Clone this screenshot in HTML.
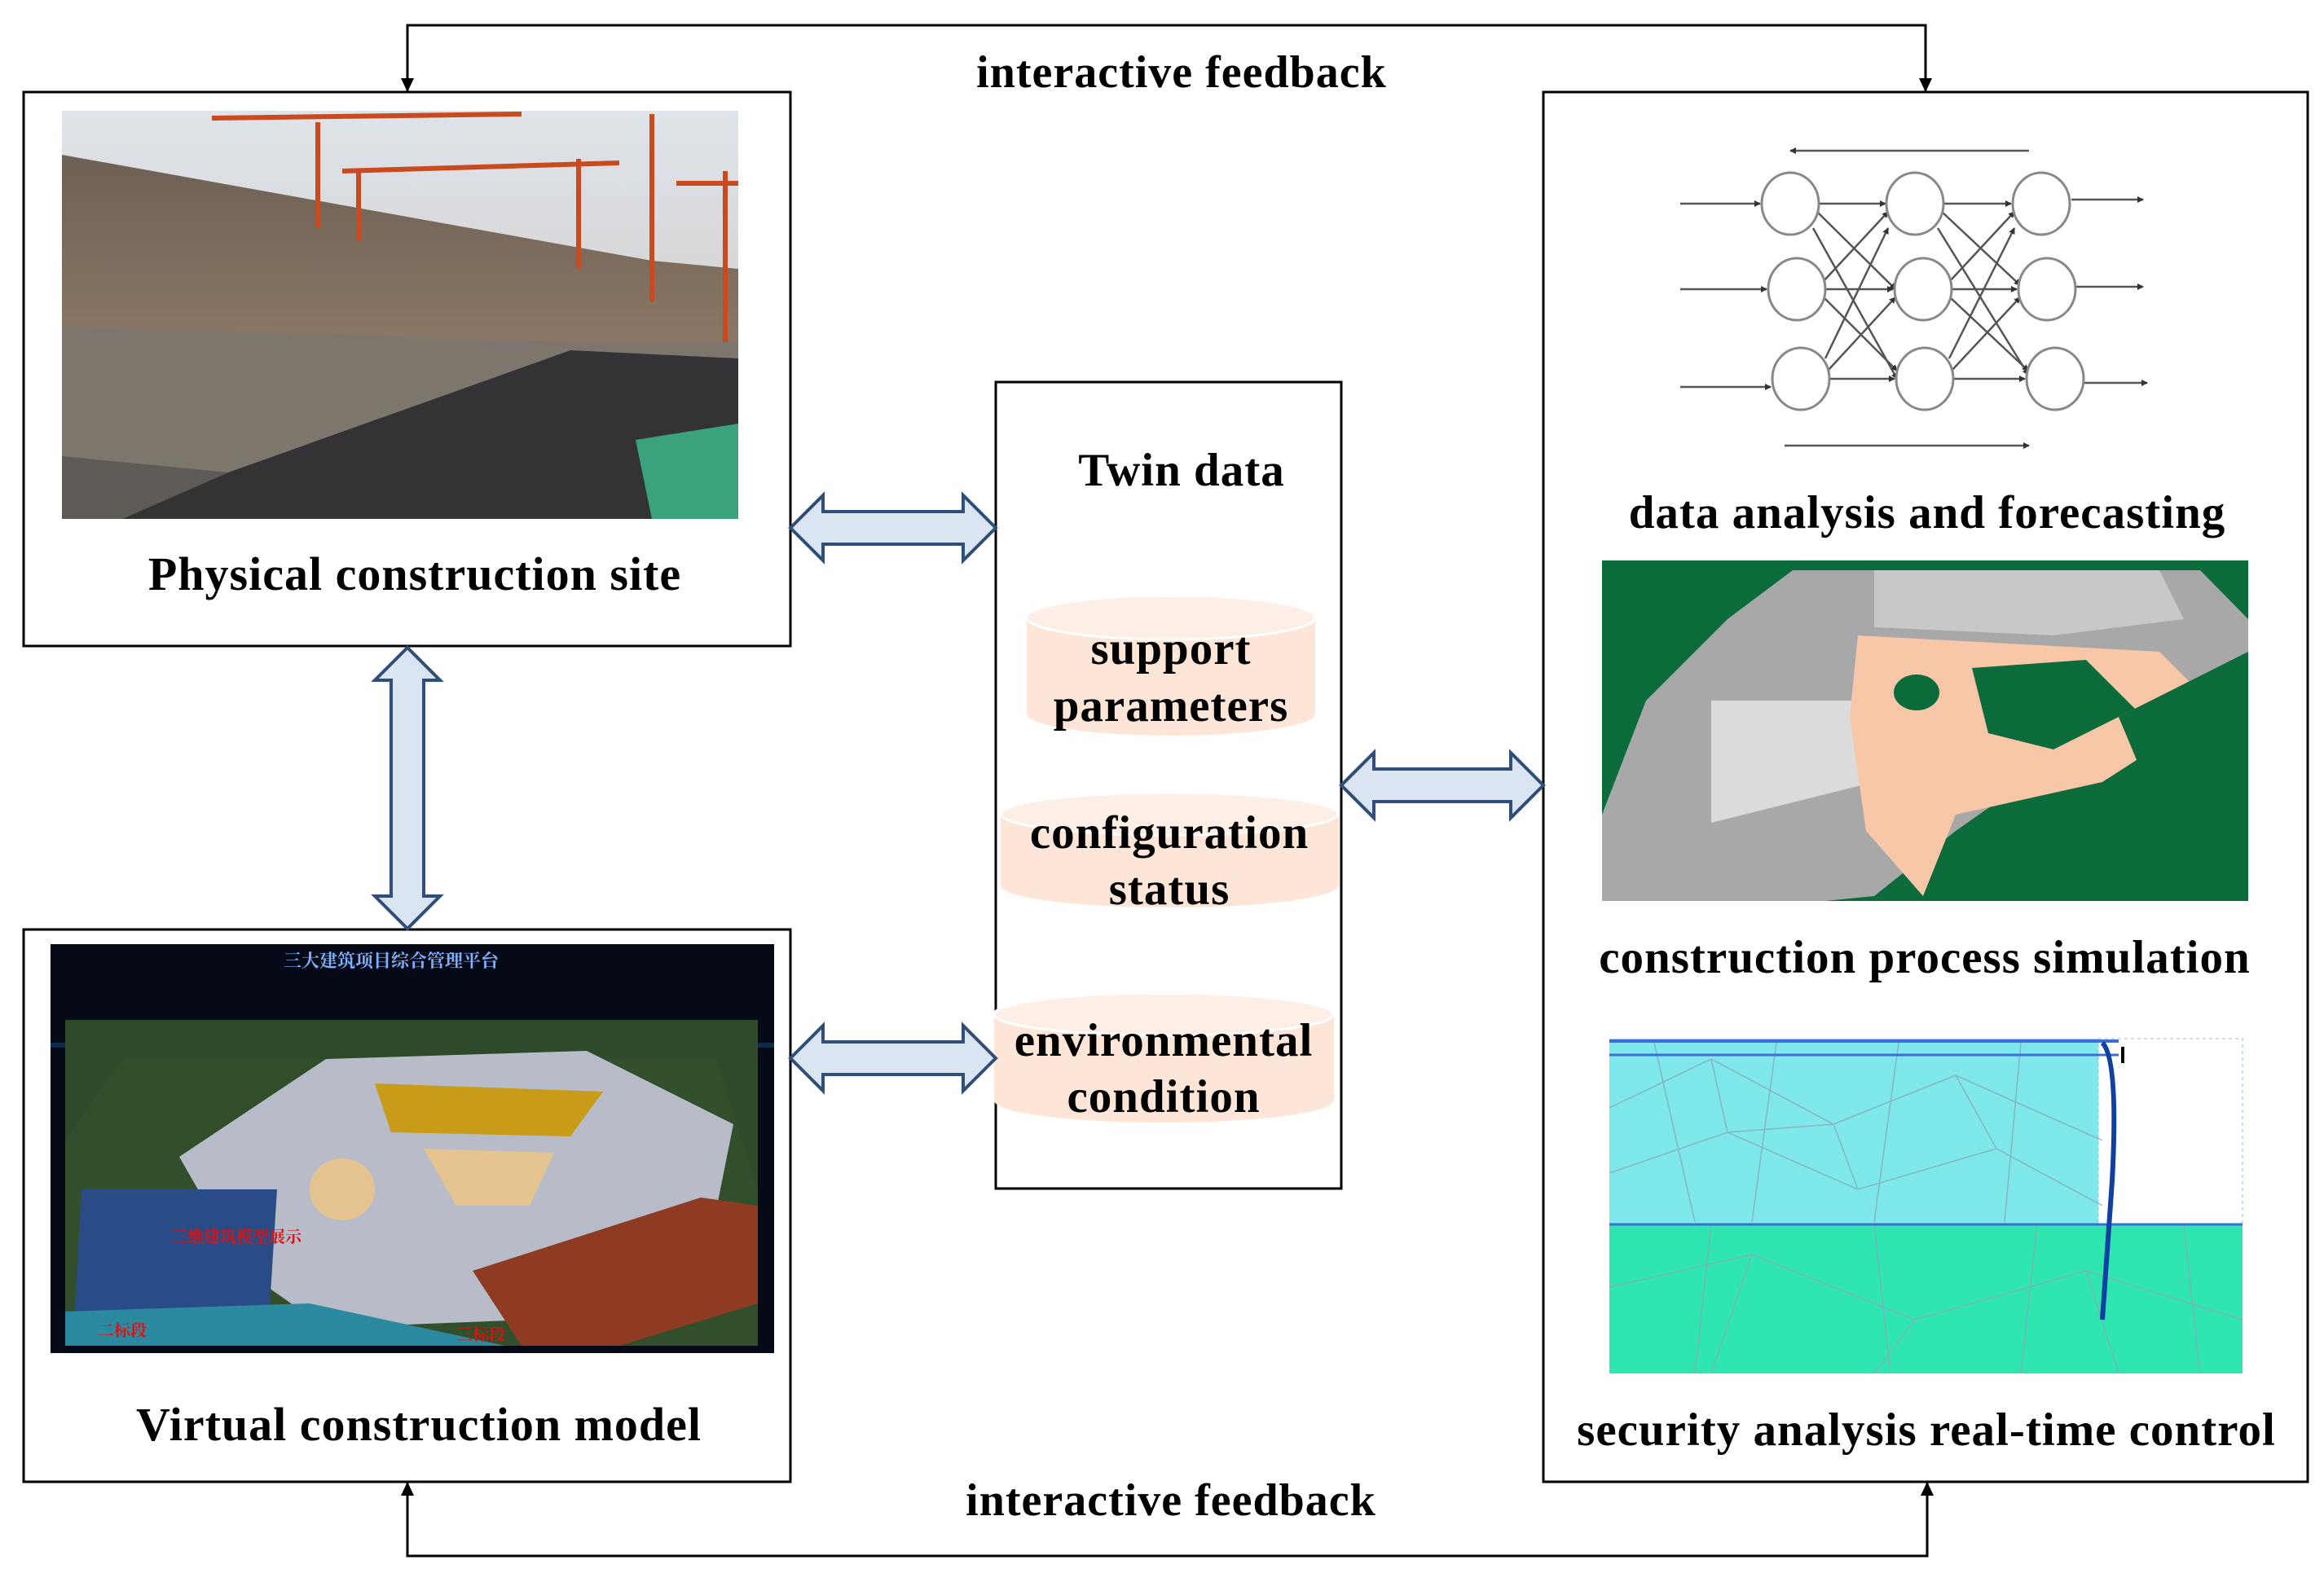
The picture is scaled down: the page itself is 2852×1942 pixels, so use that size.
<!DOCTYPE html>
<html><head><meta charset="utf-8"><style>
html,body{margin:0;padding:0;background:#fff}
svg{display:block}
text{font-family:"Liberation Serif","Noto Serif CJK SC",serif;font-weight:bold;fill:#000;letter-spacing:1px}
</style></head><body>
<svg width="2852" height="1942" viewBox="0 0 2852 1942" xmlns="http://www.w3.org/2000/svg">
<defs>
<marker id="sa" markerWidth="8" markerHeight="8" refX="7" refY="4" orient="auto" markerUnits="userSpaceOnUse"><path d="M0,0 L8,4 L0,8 z" fill="#333"/></marker>
<linearGradient id="sky" x1="0" y1="0" x2="0" y2="1"><stop offset="0" stop-color="#dfe4ea"/><stop offset="1" stop-color="#c9c3bd"/></linearGradient>
<linearGradient id="wall" x1="0" y1="0" x2="0" y2="1"><stop offset="0" stop-color="#6d6054"/><stop offset="0.5" stop-color="#8a7664"/><stop offset="1" stop-color="#a89680"/></linearGradient>
</defs>

<polyline points="500,113 500,31 2363,31 2363,113" fill="none" stroke="#000" stroke-width="3"/>
<path d="M492,96 L500,113 L508,96 z M2355,96 L2363,113 L2371,96 z" fill="#000"/>
<polyline points="500,1819 500,1910 2365,1910 2365,1819" fill="none" stroke="#000" stroke-width="3"/>
<path d="M492,1836 L500,1819 L508,1836 z M2357,1836 L2365,1819 L2373,1836 z" fill="#000"/>
<text x="1450" y="107" font-size="56" text-anchor="middle">interactive feedback</text>
<text x="1437" y="1860" font-size="56" text-anchor="middle">interactive feedback</text>

<rect x="29" y="113" width="941" height="680" fill="#fff" stroke="#000" stroke-width="3"/>
<rect x="29" y="1141" width="941" height="678" fill="#fff" stroke="#000" stroke-width="3"/>
<rect x="1222" y="469" width="424" height="990" fill="#fff" stroke="#000" stroke-width="3"/>
<rect x="1894" y="113" width="938" height="1706" fill="#fff" stroke="#000" stroke-width="3"/>

<g>
<rect x="76" y="136" width="830" height="501" fill="url(#sky)"/>
<polygon points="76,190 800,320 906,330 906,637 76,637" fill="url(#wall)"/>
<polygon points="76,400 700,420 906,420 906,637 76,637" fill="#7d766c"/>
<polygon points="150,637 906,637 906,440 700,430 280,580" fill="#333336"/>
<polygon points="76,560 280,580 150,637 76,637" fill="#5e5a55"/>
<polygon points="780,540 906,520 906,637 800,637" fill="#3aa37c"/>
<g stroke="#c84a1e" stroke-width="6" fill="none">
<line x1="390" y1="150" x2="390" y2="280"/><line x1="260" y1="145" x2="640" y2="140"/>
<line x1="440" y1="210" x2="440" y2="295"/><line x1="420" y1="210" x2="760" y2="200"/>
<line x1="800" y1="140" x2="800" y2="370"/><line x1="710" y1="195" x2="710" y2="330"/>
<line x1="890" y1="210" x2="890" y2="420"/><line x1="830" y1="225" x2="906" y2="225"/>
</g>
</g>
<text x="509" y="724" font-size="58" text-anchor="middle">Physical construction site</text>

<g>
<rect x="62" y="1159" width="888" height="502" fill="#050a16"/>
<rect x="62" y="1280" width="888" height="6" fill="#0c2a50"/>
<text x="480" y="1187" font-size="22" style="fill:#7fb0ff;letter-spacing:0" text-anchor="middle">三大建筑项目综合管理平台</text>
<rect x="80" y="1252" width="850" height="400" fill="#2d4a2a"/>
<polygon points="150,1300 880,1300 930,1460 930,1652 80,1652 80,1400" fill="#324f2c"/>
<polygon points="400,1300 720,1290 900,1380 880,1480 650,1620 400,1630 300,1560 220,1420" fill="#b8bcc8"/>
<polygon points="460,1330 740,1340 700,1395 480,1390" fill="#c89c18"/>
<polygon points="520,1410 680,1415 650,1480 560,1480" fill="#e5c48f"/>
<ellipse cx="420" cy="1460" rx="40" ry="38" fill="#e5c48f"/>
<polygon points="100,1460 340,1460 330,1620 90,1640" fill="#2a4c86"/>
<polygon points="580,1560 860,1470 930,1480 930,1600 760,1652 640,1652" fill="#8f3a22"/>
<polygon points="80,1610 380,1600 620,1652 80,1652" fill="#2b8aa0"/>
<text x="210" y="1525" font-size="20" style="fill:#e01010;letter-spacing:0">三维建筑模型展示</text>
<text x="120" y="1640" font-size="20" style="fill:#e01010;letter-spacing:0">二标段</text>
<text x="560" y="1645" font-size="20" style="fill:#e01010;letter-spacing:0">三标段</text>
</g>
<text x="514" y="1768" font-size="58" text-anchor="middle">Virtual construction model</text>

<text x="1450" y="596" font-size="57" text-anchor="middle">Twin data</text>
<g fill="#fde6d8">
<rect x="1260" y="758" width="354" height="118"/><ellipse cx="1437" cy="876" rx="177" ry="27"/>
<ellipse cx="1437" cy="758" rx="177" ry="27" fill="#feefe6" stroke="#fff" stroke-width="3"/>
<rect x="1228" y="999" width="415" height="88"/><ellipse cx="1435" cy="1087" rx="207" ry="27"/>
<ellipse cx="1435" cy="999" rx="207" ry="26" fill="#feefe6" stroke="#fff" stroke-width="3"/>
<rect x="1220" y="1245" width="417" height="106"/><ellipse cx="1428" cy="1351" rx="208" ry="27"/>
<ellipse cx="1428" cy="1245" rx="208" ry="26" fill="#feefe6" stroke="#fff" stroke-width="3"/>
</g>
<text x="1437" y="815" font-size="57" text-anchor="middle">support</text>
<text x="1437" y="885" font-size="57" text-anchor="middle">parameters</text>
<text x="1435" y="1041" font-size="57" text-anchor="middle">configuration</text>
<text x="1435" y="1110" font-size="57" text-anchor="middle">status</text>
<text x="1428" y="1296" font-size="57" text-anchor="middle">environmental</text>
<text x="1428" y="1365" font-size="57" text-anchor="middle">condition</text>

<g fill="#dbe5f2" stroke="#2f4f7a" stroke-width="4" stroke-linejoin="miter">
<polygon points="970,648 1010,608 1010,628 1182,628 1182,608 1222,648 1182,688 1182,668 1010,668 1010,688"/>
<polygon points="970,1299 1010,1259 1010,1279 1182,1279 1182,1259 1222,1299 1182,1339 1182,1319 1010,1319 1010,1339"/>
<polygon points="1646,964 1686,924 1686,944 1854,944 1854,924 1894,964 1854,1004 1854,984 1686,984 1686,1004"/>
<polygon points="500,795 540,835 520,835 520,1100 540,1100 500,1140 460,1100 480,1100 480,835 460,835"/>
</g>

<g stroke="#555" stroke-width="2.5" fill="none">
<line x1="2490" y1="185" x2="2197" y2="185" marker-end="url(#sa)"/>
<line x1="2190" y1="547" x2="2490" y2="547" marker-end="url(#sa)"/>
<g marker-end="url(#sa)">
<line x1="2062" y1="250" x2="2160" y2="250"/><line x1="2062" y1="355" x2="2168" y2="355"/><line x1="2062" y1="475" x2="2173" y2="475"/>
<line x1="2542" y1="245" x2="2630" y2="245"/><line x1="2548" y1="352" x2="2630" y2="352"/><line x1="2558" y1="470" x2="2635" y2="470"/>
<line x1="2233" y1="250" x2="2314" y2="250"/><line x1="2230" y1="260" x2="2326" y2="355"/><line x1="2225" y1="280" x2="2328" y2="465"/>
<line x1="2238" y1="345" x2="2317" y2="260"/><line x1="2241" y1="355" x2="2323" y2="355"/><line x1="2238" y1="365" x2="2328" y2="455"/>
<line x1="2240" y1="440" x2="2317" y2="280"/><line x1="2243" y1="455" x2="2326" y2="365"/><line x1="2246" y1="465" x2="2325" y2="465"/>
<line x1="2386" y1="250" x2="2468" y2="250"/><line x1="2383" y1="260" x2="2479" y2="350"/><line x1="2378" y1="280" x2="2489" y2="460"/>
<line x1="2393" y1="345" x2="2472" y2="260"/><line x1="2396" y1="355" x2="2475" y2="355"/><line x1="2393" y1="365" x2="2489" y2="455"/>
<line x1="2392" y1="440" x2="2472" y2="280"/><line x1="2395" y1="455" x2="2479" y2="365"/><line x1="2398" y1="465" x2="2485" y2="465"/>
</g>
</g>
<g fill="#fff" stroke="#888" stroke-width="3">
<ellipse cx="2197" cy="250" rx="35" ry="38"/><ellipse cx="2205" cy="355" rx="35" ry="38"/><ellipse cx="2210" cy="465" rx="35" ry="38"/>
<ellipse cx="2350" cy="250" rx="35" ry="38"/><ellipse cx="2360" cy="355" rx="35" ry="38"/><ellipse cx="2362" cy="465" rx="35" ry="38"/>
<ellipse cx="2505" cy="250" rx="35" ry="38"/><ellipse cx="2512" cy="355" rx="35" ry="38"/><ellipse cx="2522" cy="465" rx="35" ry="38"/>
</g>
<text x="2365" y="648" font-size="57" text-anchor="middle">data analysis and forecasting</text>

<g>
<rect x="1966" y="688" width="793" height="418" fill="#0c6b3a"/>
<polygon points="1966,1000 2020,860 2120,760 2200,700 2700,700 2759,760 2759,900 2600,880 2400,1020 2300,1100 2240,1106 1966,1106" fill="#a8a8a8"/>
<polygon points="2100,860 2300,860 2300,960 2100,1010" fill="#dcdcdc"/>
<polygon points="2280,780 2650,800 2720,870 2580,960 2400,1000 2360,1100 2290,1020 2270,880" fill="#f7c7a8"/>
<polygon points="2420,820 2560,810 2620,870 2520,920 2440,900" fill="#0c6b3a"/>
<ellipse cx="2352" cy="850" rx="28" ry="22" fill="#0c6b3a"/>
<polygon points="2300,700 2650,700 2680,760 2520,780 2300,770" fill="#c8c8c8"/>
<polygon points="2600,880 2759,800 2759,1000 2650,1000" fill="#0c6b3a"/>
</g>
<text x="2362" y="1194" font-size="57" text-anchor="middle">construction process simulation</text>

<g>
<rect x="1975" y="1275" width="600" height="228" fill="#7ee8ec"/>
<rect x="1975" y="1503" width="777" height="183" fill="#2fe6b0"/>
<rect x="2575" y="1275" width="177" height="228" fill="#fff" stroke="#9bd" stroke-dasharray="4 4"/>
<g stroke="#8aa8b8" stroke-width="1.5" fill="none" opacity="0.8">
<path d="M1975,1360 L2100,1300 L2250,1380 L2400,1320 L2580,1400 M1975,1440 L2120,1390 L2280,1460 L2450,1410 L2580,1480 M2030,1280 L2080,1500 M2180,1280 L2150,1500 M2330,1280 L2300,1500 M2480,1280 L2460,1500 M2100,1300 L2120,1390 L2250,1380 L2280,1460 M2400,1320 L2450,1410 M1975,1580 L2150,1540 L2350,1620 L2560,1560 L2752,1620 M2100,1503 L2080,1686 M2300,1503 L2320,1686 M2500,1503 L2480,1686 M2680,1503 L2700,1686 M2150,1540 L2100,1686 M2350,1620 L2300,1686 M2560,1560 L2600,1686"/>
</g>
<line x1="1975" y1="1278" x2="2600" y2="1278" stroke="#3a6fd8" stroke-width="4"/>
<line x1="1975" y1="1295" x2="2600" y2="1295" stroke="#3a6fd8" stroke-width="3"/>
<line x1="1975" y1="1503" x2="2752" y2="1503" stroke="#3a6fd8" stroke-width="3"/>
<path d="M2580,1280 Q2600,1300 2592,1450 L2580,1620" stroke="#1040a0" stroke-width="6" fill="none"/>
<line x1="2605" y1="1285" x2="2605" y2="1305" stroke="#000" stroke-width="4"/>
</g>
<text x="2364" y="1774" font-size="57" text-anchor="middle">security analysis real-time control</text>
</svg>
</body></html>
